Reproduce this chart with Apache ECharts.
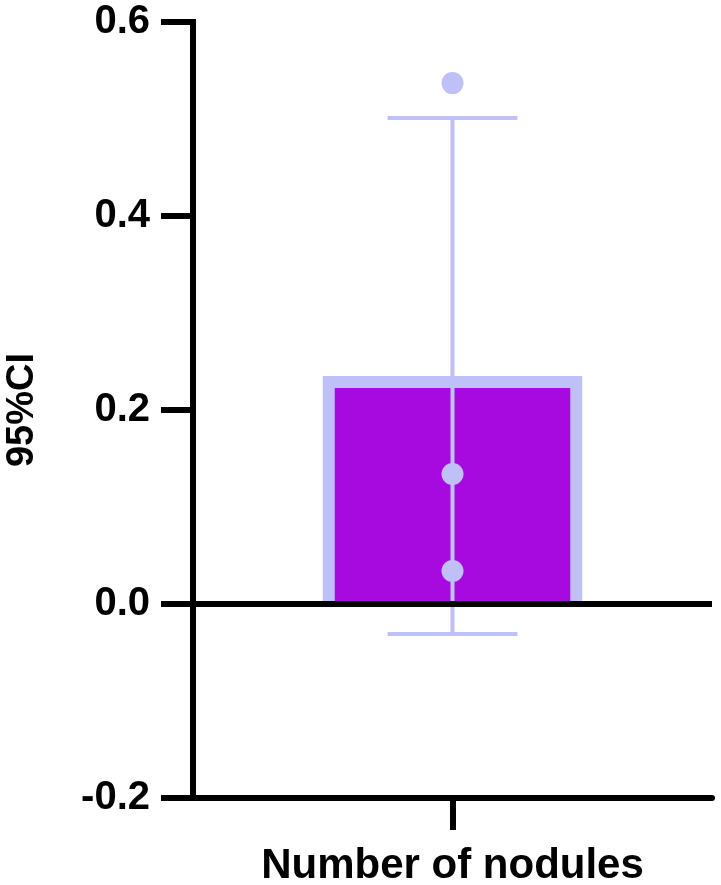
<!DOCTYPE html>
<html>
<head>
<meta charset="utf-8">
<script src="https://cdn.jsdelivr.net/npm/echarts@6/dist/echarts.min.js"></script>
<style>html,body{margin:0;padding:0;background:#fff}#c{width:721px;height:885px}</style>
</head>
<body>
<div id="c"></div>
<script>
var categories = ['Number of nodules'];
var barMean = [0.235];
var ciLower = [-0.031];
var ciUpper = [0.501];
var points = [0.537, 0.134, 0.034];
var yTicks = [-0.2, 0.0, 0.2, 0.4, 0.6];

var FONT = '"Liberation Sans", Arial, sans-serif';
var LAV = '#c0c0f8';
var FILL = '#a70ade';

var chart = echarts.init(document.getElementById('c'));
chart.setOption({
  animation: false,
  backgroundColor: '#fff',
  grid: {left: 193, right: 9, top: 22, bottom: 87, containLabel: false, outerBoundsMode: 'none'},
  xAxis: {
    type: 'category',
    data: categories,
    boundaryGap: true,
    axisLine: {onZero: false, lineStyle: {color: '#000', width: 6}},
    axisTick: {show: true, interval: 0, alignWithLabel: true, length: 32, lineStyle: {color: '#000', width: 6}},
    axisLabel: {color: '#000', fontSize: 42, fontWeight: 'bold', fontFamily: FONT, margin: 47, interval: 0}
  },
  yAxis: {
    type: 'value',
    min: yTicks[0], max: yTicks[yTicks.length - 1], interval: 0.2,
    name: '95%CI',
    nameLocation: 'middle',
    nameGap: 151,
    nameTextStyle: {color: '#000', fontSize: 38, fontWeight: 'bold', fontFamily: FONT},
    axisLine: {show: true, lineStyle: {color: '#000', width: 6, cap: 'square'}},
    axisTick: {show: true, length: 32, lineStyle: {color: '#000', width: 6}},
    axisLabel: {color: '#000', fontSize: 40, fontWeight: 'bold', fontFamily: FONT, margin: 43,
      formatter: function (v) { return (Math.round(v * 10) / 10).toFixed(1); }},
    splitLine: {show: false}
  },
  series: [
    {
      type: 'custom',
      z: 1,
      data: barMean.map(function (v, i) { return [i, v]; }),
      renderItem: function (params, api) {
        var top = api.coord([api.value(0), api.value(1)]);
        var base = api.coord([api.value(0), 0]);
        var band = api.size([1, 0])[0];
        var w = band * 0.5;
        var b = 12;
        return {
          type: 'group',
          children: [
            {type: 'rect', shape: {x: top[0] - w / 2, y: top[1], width: w, height: base[1] - top[1]}, style: {fill: LAV}},
            {type: 'rect', shape: {x: top[0] - w / 2 + b, y: top[1] + b, width: w - 2 * b, height: base[1] - top[1] - b}, style: {fill: FILL}}
          ]
        };
      }
    },
    {
      type: 'line',
      z: 2,
      data: [],
      markLine: {
        silent: true,
        symbol: 'none',
        label: {show: false},
        lineStyle: {color: '#000', width: 6, type: 'solid'},
        data: [{yAxis: 0}]
      }
    },
    {
      type: 'custom',
      z: 3,
      data: ciLower.map(function (v, i) { return [i, v, ciUpper[i]]; }),
      renderItem: function (params, api) {
        var lo = api.coord([api.value(0), api.value(1)]);
        var hi = api.coord([api.value(0), api.value(2)]);
        var band = api.size([1, 0])[0];
        var hw = band * 0.125;
        var st = {stroke: LAV, lineWidth: 4};
        return {
          type: 'group',
          children: [
            {type: 'line', shape: {x1: lo[0], y1: lo[1], x2: hi[0], y2: hi[1]}, style: st},
            {type: 'line', shape: {x1: lo[0] - hw, y1: lo[1], x2: lo[0] + hw, y2: lo[1]}, style: st},
            {type: 'line', shape: {x1: hi[0] - hw, y1: hi[1], x2: hi[0] + hw, y2: hi[1]}, style: st}
          ]
        };
      }
    },
    {
      type: 'scatter',
      z: 4,
      symbol: 'circle',
      symbolSize: 22,
      itemStyle: {color: LAV, opacity: 1},
      data: points.map(function (v) { return [0, v]; })
    }
  ]
});
</script>
</body>
</html>
